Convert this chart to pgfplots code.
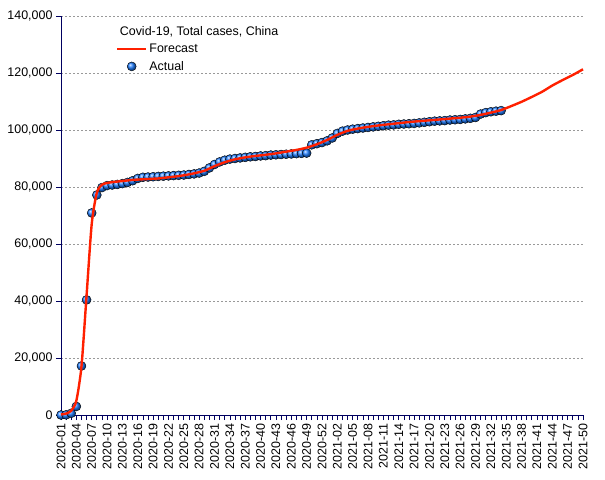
\documentclass[border=0pt]{standalone}
\usepackage{fontspec}
\setmainfont{Liberation Sans}
\usepackage{pgfplots}
\pgfplotsset{compat=1.18}
\usepackage{pgfplotstable}
\definecolor{axisnavy}{RGB}{0,0,96}
\definecolor{fcred}{RGB}{255,32,0}
\definecolor{ballblue}{RGB}{30,125,255}

\pgfplotsset{
  fclegend/.style={legend image code/.code={\draw[##1] (0bp,0bp) -- (29bp,0bp);}},
  aclegend/.style={legend image code/.code={\draw[mark repeat=2,mark phase=2,##1] plot coordinates {(0bp,0bp) (14.5bp,0bp) (29bp,0bp)};}},
}

\pgfplotstableread{
x y
0 0
1 60
2 600
3 3000
4 17200
5 40400
6 70900
7 77200
8 79800
9 80500
10 80700
11 80900
12 81200
13 81600
14 82200
15 83000
16 83400
17 83500
18 83600
19 83700
20 83800
21 83900
22 84000
23 84100
24 84200
25 84400
26 84600
27 84900
28 85500
29 86700
30 87900
31 88800
32 89400
33 89800
34 90000
35 90200
36 90400
37 90600
38 90700
39 90900
40 91000
41 91200
42 91300
43 91400
44 91500
45 91600
46 91700
47 91800
48 91900
49 94800
50 95200
51 95600
52 96200
53 97200
54 98800
55 99600
56 100000
57 100300
58 100500
59 100700
60 100900
61 101100
62 101300
63 101500
64 101700
65 101800
66 102000
67 102100
68 102200
69 102300
70 102500
71 102700
72 102900
73 103100
74 103200
75 103300
76 103500
77 103600
78 103700
79 103900
80 104100
81 104400
82 105600
83 106100
84 106400
85 106600
86 106800
}\actual

\pgfplotstableread{
x y
0 200
1 500
2 1500
3 5000
4 17000
5 42000
6 67000
7 78000
8 80800
9 81400
10 81700
11 81900
12 82100
13 82300
14 82500
15 82600
16 82700
17 82800
18 82900
19 83000
20 83200
22 83600
24 84100
26 84800
28 85700
30 87300
32 88700
34 89700
36 90400
38 90900
40 91300
42 91800
44 92400
46 93000
48 93800
50 95000
52 96500
54 98300
56 99700
58 100500
60 101100
62 101600
64 102000
66 102400
68 102800
70 103100
72 103400
74 103700
76 104000
78 104300
80 104700
82 105300
84 106100
86 107000
88 108400
90 109900
92 111600
94 113400
96 115600
98 117500
100 119300
102 121300
}\forecast

\begin{document}
\begin{tikzpicture}
\begin{axis}[
  name=ax,
  set layers,
  scale only axis,
  width=522bp, height=399bp,
  xmin=0, xmax=102, ymin=0, ymax=140000,
  clip=false,
  axis x line*=bottom, axis y line*=left,
  axis line style={axisnavy, line width=0.9pt},
  xtick={0,3,...,102},
  xticklabels={2020-01,2020-04,2020-07,2020-10,2020-13,2020-16,2020-19,2020-22,2020-25,2020-28,2020-31,2020-34,2020-37,2020-40,2020-43,2020-46,2020-49,2020-52,2021-02,2021-05,2021-08,2021-11,2021-14,2021-17,2021-20,2021-23,2021-26,2021-29,2021-32,2021-35,2021-38,2021-41,2021-44,2021-47,2021-50},
  minor x tick num=2,
  x tick label style={rotate=90, anchor=east},
  tick align=outside,
  major tick length=5bp, minor tick length=5bp,
  tick style={axisnavy, line width=0.7pt},
  scaled y ticks=false,
  ytick={0,20000,40000,60000,80000,100000,120000,140000},
  yticklabels={0,{20,000},{40,000},{60,000},{80,000},{100,000},{120,000},{140,000}},
  ymajorgrids,
  grid style={gray!80, dash pattern=on 2bp off 2bp, line width=0.5pt},
  tick label style={font=\fontsize{12.5}{14}\selectfont, black},
  legend style={at={(rel axis cs:0.105,0.935)}, anchor=north west, draw=none, fill=none,
    font=\fontsize{12.5}{14}\selectfont, row sep=3bp, inner sep=0pt},
  legend cell align=left,
]
\addlegendimage{fcred, line width=2.4bp, fclegend}
\addlegendimage{only marks, mark=ball, mark size=4.5bp, mark options={ball color=ballblue}, aclegend}
\legend{Forecast, Actual}
\addplot[forget plot, only marks, mark=ball, mark size=4.5bp, mark options={ball color=ballblue}] table[x=x,y=y] {\actual};
\addplot[forget plot, on layer=axis foreground, fcred, line width=2.4bp, smooth, tension=0.4] table[x=x,y=y] {\forecast};
\node[anchor=base west, font=\fontsize{12.5}{14}\selectfont] at (rel axis cs:0.106,0.952) {Covid-19, Total cases, China};
\end{axis}
\pgfresetboundingbox
\path ([xshift=-61bp,yshift=-65bp]ax.south west) rectangle ([xshift=22bp,yshift=16bp]ax.north east);
\end{tikzpicture}
\end{document}
